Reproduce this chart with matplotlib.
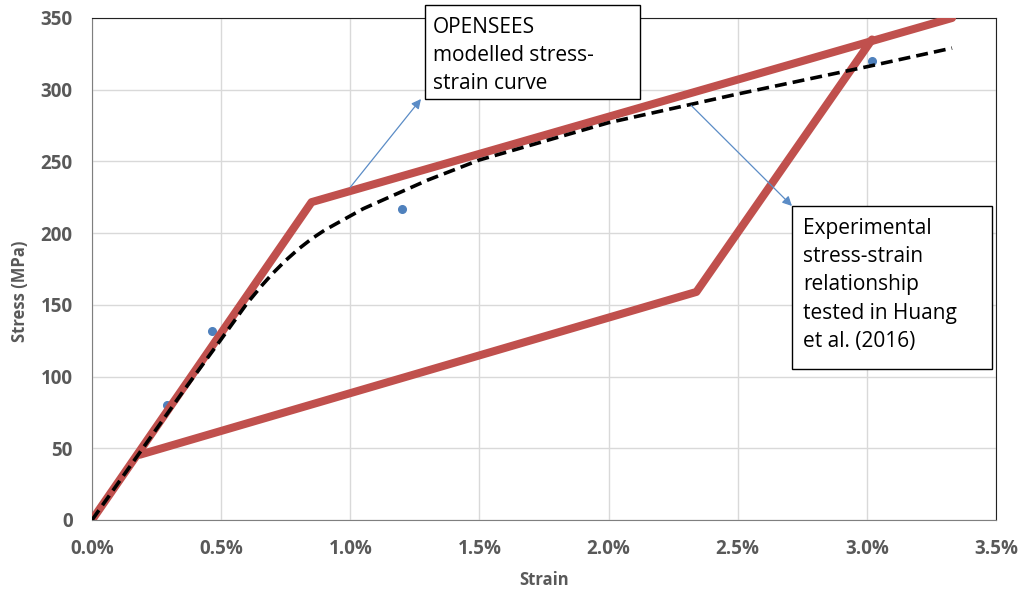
import matplotlib
matplotlib.use("Agg")
import matplotlib.pyplot as plt
from matplotlib.ticker import PercentFormatter, MultipleLocator
from matplotlib.patches import Rectangle

# experimental stress-strain (red) - envelope and reloading branch
env_strain = [0.0, 0.0085, 0.0333]
env_stress = [0.0, 221.6, 350.0]
loop_strain = [0.00185, 0.0234, 0.0302]
loop_stress = [45.5, 159.0, 335.0]

# OPENSEES modelled curve (black dashed)
model_strain = [0.0, 0.0035, 0.005, 0.006, 0.0066, 0.0070, 0.0075, 0.0080,
                0.0085, 0.0090, 0.0095, 0.0100, 0.0105, 0.0110, 0.0120,
                0.0130, 0.0140, 0.0150, 0.0175, 0.0200, 0.0250, 0.0300, 0.0333]
model_stress = [0.0, 89, 126, 151, 164, 172, 181, 189,
                196, 202, 207, 212, 217, 221, 229,
                237, 244, 251, 264, 277, 297, 316, 329]

# scattered test points (blue)
pts_strain = [0.0029, 0.00465, 0.0120, 0.0302]
pts_stress = [80, 132, 217, 320]

grey = "#595959"
plt.rcParams['font.family'] = ['Open Sans', 'DejaVu Sans']

fig = plt.figure(figsize=(10.27, 5.99), dpi=100)
ax = fig.add_axes([0.0896, 0.1319, 0.8802, 0.8381])

ax.plot(pts_strain, pts_stress, 'o', color="#4f81bd", ms=5.5, zorder=2)
ax.plot(env_strain, env_stress, color="#c0504d", lw=5.8,
        solid_capstyle='round', solid_joinstyle='round', zorder=3)
ax.plot(loop_strain, loop_stress, color="#c0504d", lw=5.8,
        solid_capstyle='round', solid_joinstyle='round', zorder=3)
ax.plot(model_strain, model_stress, color="black", lw=2.6,
        dashes=(3.3, 1.7), zorder=4)

ax.set_xlim(0, 0.035)
ax.set_ylim(0, 350)
ax.xaxis.set_major_locator(MultipleLocator(0.005))
ax.yaxis.set_major_locator(MultipleLocator(50))
ax.xaxis.set_major_formatter(PercentFormatter(xmax=1, decimals=1))
ax.grid(True, color="#d9d9d9", lw=1)
ax.set_axisbelow(True)
ax.tick_params(length=0, pad=14, labelsize=13.5, labelcolor=grey)
for lab in ax.get_xticklabels() + ax.get_yticklabels():
    lab.set_fontweight('bold')

for s in ['left', 'bottom']:
    ax.spines[s].set_color("#7f7f7f")
for s in ['top', 'right']:
    ax.spines[s].set_color("#222222")

ax.set_xlabel("Strain", fontsize=12, fontweight='bold', color=grey, labelpad=8)
ax.set_ylabel("Stress (MPa)", fontsize=12, fontweight='bold', color=grey, labelpad=6)
ax.yaxis.set_label_coords(-0.07, 0.456)

# annotation boxes (figure pixel coords, origin bottom-left)
H = 599
def box(x0, y0, x1, y1, text, tx, ty):
    r = Rectangle((x0, H - y1), x1 - x0, y1 - y0, transform=None,
                  facecolor="white", edgecolor="black", lw=1, zorder=10)
    fig.patches.append(r)
    fig.text(tx / 1027, 1 - ty / H, text, fontsize=15, va='top', ha='left',
             linespacing=1.45, color="black", zorder=11)

box(425, 5, 640, 99, "OPENSEES\nmodelled stress-\nstrain curve", 433, 17)
box(792, 206, 992, 369,
    "Experimental\nstress-strain\nrelationship\ntested in Huang\net al. (2016)", 803, 218)

arrow = dict(arrowstyle='-|>', color="#5b8cc6", lw=0.9, mutation_scale=14,
             shrinkA=0, shrinkB=0)
ax.annotate("", xy=(421 / 1027, 1 - 99 / H), xycoords='figure fraction',
            xytext=(0.0100, 232), textcoords='data', arrowprops=arrow, zorder=9)
ax.annotate("", xy=(792 / 1027, 1 - 206 / H), xycoords='figure fraction',
            xytext=(0.0232, 289), textcoords='data', arrowprops=arrow, zorder=9)

fig.savefig("out.png", dpi=100)
